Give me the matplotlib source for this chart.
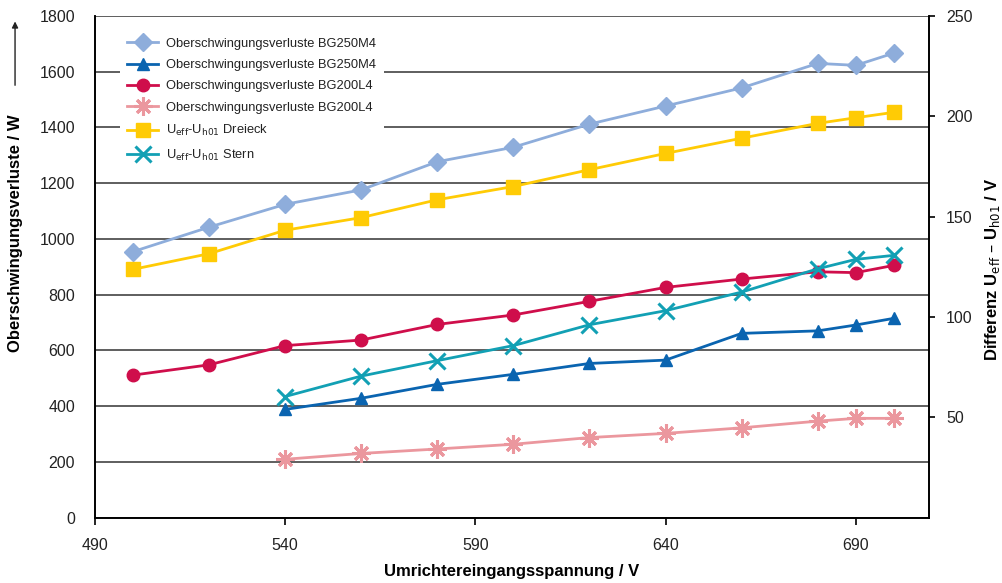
import numpy as np
import matplotlib
matplotlib.use("Agg")
from matplotlib import pyplot as plt

plt.rcParams['font.family'] = ['Liberation Sans', 'DejaVu Sans']

# Spannung / V
spannung = [500, 520, 540, 560, 580, 600, 620, 640, 660, 680, 690, 700]
spannung_kurz = spannung[2:]

# Oberschwingungsverluste / W
verl_bg250_a = [954, 1042, 1124, 1176, 1277, 1329, 1412, 1477, 1542, 1630, 1623, 1667]
verl_bg250_b = [388, 428, 478, 514, 553, 565, 661, 670, 691, 715]
verl_bg200_a = [511, 548, 617, 637, 693, 727, 776, 826, 856, 882, 879, 905]
verl_bg200_b = [209, 230, 246, 263, 287, 302, 322, 346, 356, 356]

# Differenz Ueff - Uh01 / V
diff_dreieck = [123.7, 131.5, 143.2, 149.5, 158.4, 165.0, 173.4, 181.5, 189.1, 196.5, 199.3, 202.0]
diff_stern = [60.3, 70.5, 78.2, 85.7, 96.1, 103.1, 112.4, 124.0, 128.7, 130.7]

labels = ['Oberschwingungsverluste BG250M4',
          'Oberschwingungsverluste BG250M4',
          'Oberschwingungsverluste BG200L4',
          'Oberschwingungsverluste BG200L4',
          r'U$_{\mathrm{eff}}$-U$_{\mathrm{h01}}$ Dreieck',
          r'U$_{\mathrm{eff}}$-U$_{\mathrm{h01}}$ Stern']

fig = plt.figure(figsize=(10.03, 5.83), dpi=100)
ax = fig.add_axes([0.0944, 0.1123, 0.8321, 0.8602])
ax2 = ax.twinx()

lw = 2.0
h1, = ax.plot(spannung, verl_bg250_a, color='#8EADDB', lw=lw, marker='D', ms=9.5)
h2, = ax.plot(spannung_kurz, verl_bg250_b, color='#0A64B0', lw=lw, marker='^', ms=8)
h3, = ax.plot(spannung, verl_bg200_a, color='#CF0E4B', lw=lw, marker='o', ms=9)
h4, = ax.plot(spannung_kurz, verl_bg200_b, color='#EB979E', lw=lw, marker=(8, 2, 0), ms=13, mew=2.2)
h5, = ax2.plot(spannung, diff_dreieck, color='#FFCB05', lw=lw, marker='s', ms=10)
h6, = ax2.plot(spannung_kurz, diff_stern, color='#12A0B4', lw=lw, marker='x', ms=11, mew=2.2)

ax.set_xlim(490, 709.3)
ax.set_ylim(0, 1800)
ax2.set_ylim(0, 250)

ax.set_xticks([490, 540, 590, 640, 690])
ax.set_yticks(np.arange(0, 1801, 200))
ax2.set_yticks([50, 100, 150, 200, 250])

ax.grid(axis='y', color='#333333', lw=1.1)
ax.set_axisbelow(True)

for a in (ax, ax2):
    a.spines['top'].set_visible(False)
    for s in a.spines.values():
        s.set_linewidth(1.2)
ax.tick_params(axis='y', length=0, pad=14, labelsize=11.5, colors='#222222')
ax.tick_params(axis='x', length=5, width=1.2, direction='out', pad=10, labelsize=11.5, labelcolor='#222222')
ax2.tick_params(axis='y', length=4, width=1.2, direction='out', pad=8, labelsize=11.5, labelcolor='#222222')

ax.set_xlabel('Umrichtereingangsspannung / V', fontsize=12, fontweight='bold', labelpad=8)
fig.text(0.015, 0.60, 'Oberschwingungsverluste / W', rotation=90, ha='center', va='center',
         fontsize=12, fontweight='bold')
fig.text(0.990, 0.537, r'Differenz U$_{\mathrm{eff}}$ – U$_{\mathrm{h01}}$ / V', rotation=90,
         ha='center', va='center', fontsize=12, fontweight='bold')
fig.patches.append(matplotlib.patches.FancyArrowPatch(
    (0.015, 0.849), (0.015, 0.968), transform=fig.transFigure,
    arrowstyle='-|>', mutation_scale=9, lw=1.0, color='#222222'))

# legend sits above the grid but under the data lines
leg = ax.legend([h1, h2, h3, h4, h5, h6], labels, loc='upper left',
                bbox_to_anchor=(0.022, 0.985), fontsize=9.3, frameon=True,
                facecolor='white', edgecolor='none', framealpha=1, fancybox=False,
                handlelength=2.4, handletextpad=0.6, labelspacing=0.72, borderpad=0.6)
leg.set_zorder(1.5)
for t in leg.get_texts():
    t.set_color('#222222')

fig.savefig('out.png', dpi=100)
